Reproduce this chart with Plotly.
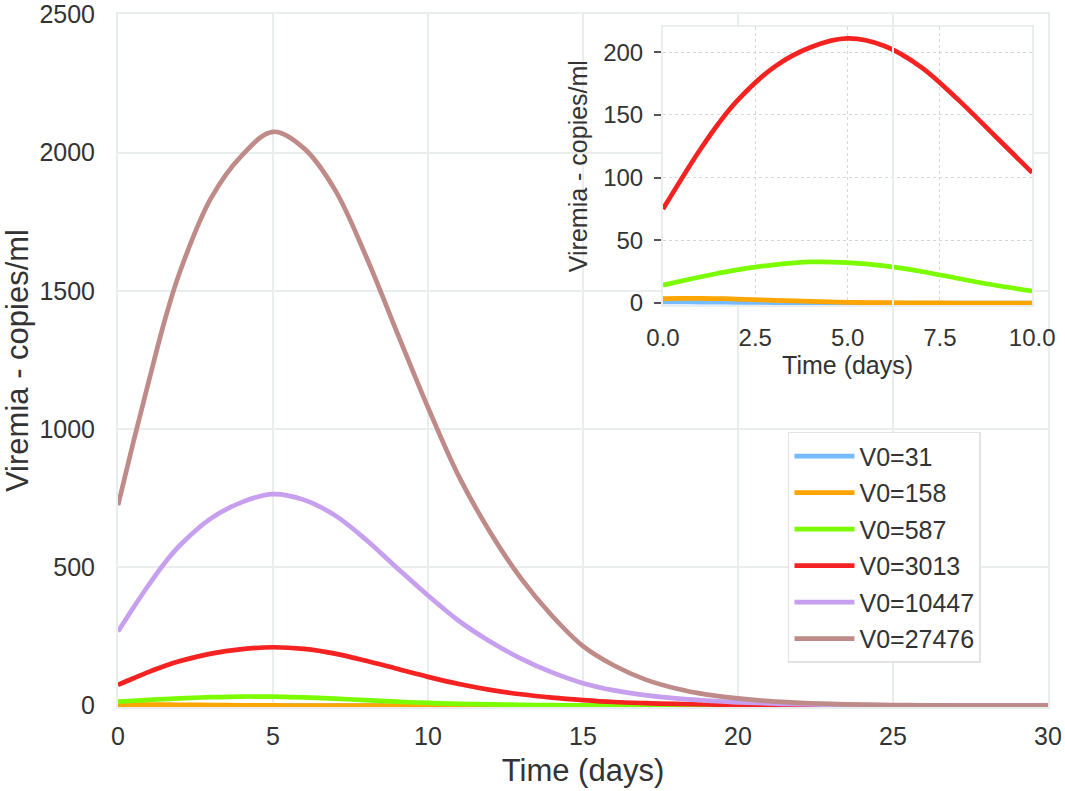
import plotly.graph_objects as go

# ---------------- data ----------------
t = [0, 0.5, 1, 1.5, 2, 3, 4, 5, 6, 7, 8, 9, 10, 11, 12, 13, 14, 15, 16, 17,
     18, 19, 20, 21, 22, 23, 24, 25, 26, 27, 28, 29, 30]

v31 = [0.9, 0.85, 0.8, 0.7, 0.6, 0.35, 0.2, 0.1, 0.05, 0, 0, 0, 0, 0, 0, 0, 0,
       0, 0, 0, 0, 0, 0, 0, 0, 0, 0, 0, 0, 0, 0, 0, 0]
v158 = [3.5, 3.7, 3.8, 3.6, 3.2, 2.2, 1.3, 0.6, 0.3, 0.12, 0.05, 0, 0, 0, 0, 0, 0,
        0, 0, 0, 0, 0, 0, 0, 0, 0, 0, 0, 0, 0, 0, 0, 0]
v587 = [14.3, 17.6, 20.8, 23.8, 26.5, 30.5, 32.8, 32.2, 29.6, 25.2, 19.6, 14.2,
        9.6, 6.5, 4.3, 2.8, 1.8, 1.1, 0.7, 0.4, 0.2, 0.1, 0, 0, 0, 0, 0, 0, 0, 0,
        0, 0, 0]
v3013 = [75, 99, 122, 143, 161, 188, 204, 211, 205, 188, 162, 133, 104, 78, 57,
         41, 29, 20, 13, 9, 6, 4, 2.5, 1.5, 1, 0.5, 0.2, 0, 0, 0, 0, 0, 0]
v10447 = [268, 355, 438, 515, 580, 677, 736, 765, 744, 688, 600, 498, 398, 306,
          232, 170, 120, 81, 55, 38, 26, 18, 12, 8, 5, 3, 2, 1, 0.5, 0.2, 0, 0, 0]
v27476 = [725, 955, 1176, 1390, 1570, 1835, 1990, 2075, 2015, 1865, 1625, 1350,
          1078, 828, 628, 460, 325, 215, 145, 95, 62, 40, 26, 16, 10, 6, 3.5, 2,
          1, 0.5, 0.2, 0, 0]

names = ["V0=31", "V0=158", "V0=587", "V0=3013", "V0=10447", "V0=27476"]
series = [v31, v158, v587, v3013, v10447, v27476]
colors = ["#75bbfd", "#ffa500", "#7cfc00", "#f52222", "#c79fef", "#bf8b89"]

# inset shows the first 10 days
inset_n = t.index(10) + 1

main_xticks = [0, 5, 10, 15, 20, 25, 30]
main_yticks = [0, 500, 1000, 1500, 2000, 2500]
inset_xticks = [0, 2.5, 5, 7.5, 10]
inset_yticks = [0, 50, 100, 150, 200]

FONT = "Liberation Sans, Arial, sans-serif"
TXT = "#333333"
GRID = "#e9eded"

fig = go.Figure()

for nm, ys, c in zip(names, series, colors):
    fig.add_trace(go.Scatter(
        x=t, y=ys, name=nm, mode="lines",
        line=dict(color=c, width=4.7, shape="spline", smoothing=1.0),
        legendgroup=nm, xaxis="x", yaxis="y"))

for nm, ys, c in zip(names, series, colors):
    fig.add_trace(go.Scatter(
        x=t[:inset_n], y=ys[:inset_n], name=nm, mode="lines",
        line=dict(color=c, width=4.7, shape="spline", smoothing=1.0),
        showlegend=False, xaxis="x2", yaxis="y2"))

fig.update_layout(
    width=1065, height=791,
    margin=dict(l=118, r=17, t=14, b=84),
    paper_bgcolor="white", plot_bgcolor="white",
    font=dict(family=FONT, color=TXT, size=25),
    xaxis=dict(
        domain=[0, 1], range=[0, 30], tickvals=main_xticks, automargin=False,
        showgrid=True, gridcolor=GRID, gridwidth=2,
        showline=True, linecolor=GRID, linewidth=2, mirror=True,
        zeroline=False, ticks="", ticklabelstandoff=6, ticklabeloverflow="allow",
        tickfont=dict(size=25, color=TXT),
        title=dict(text="Time (days)", font=dict(size=31, color=TXT), standoff=10)),
    yaxis=dict(
        domain=[0, 1], range=[-5, 2501], tickvals=main_yticks, automargin=False,
        showgrid=True, gridcolor=GRID, gridwidth=2,
        showline=True, linecolor=GRID, linewidth=2, mirror=True,
        zeroline=False, ticks="", ticklabelstandoff=16, ticklabeloverflow="allow",
        tickfont=dict(size=25, color=TXT),
        title=dict(text="Viremia - copies/ml", font=dict(size=31, color=TXT), standoff=12)),
    xaxis2=dict(
        domain=[0.586, 0.983], anchor="y2", range=[0, 10], tickvals=inset_xticks,
        tickformat=".1f", automargin=False,
        showgrid=True, gridcolor="#d6d6d6", gridwidth=1, griddash="dot",
        showline=True, linecolor=GRID, linewidth=2, mirror=True,
        zeroline=False, ticks="", ticklabelstandoff=10,
        tickfont=dict(size=24, color=TXT),
        title=dict(text="Time (days)", font=dict(size=25, color=TXT), standoff=6)),
    yaxis2=dict(
        domain=[0.580, 0.981], anchor="x2", range=[-1.6, 220], tickvals=inset_yticks,
        automargin=False,
        showgrid=True, gridcolor="#d6d6d6", gridwidth=1, griddash="dot",
        showline=True, linecolor=GRID, linewidth=2, mirror=True,
        zeroline=False, ticks="outside", ticklen=7, tickwidth=1.5, tickcolor="#555555",
        ticklabelstandoff=6,
        tickfont=dict(size=24, color=TXT),
        title=dict(text="Viremia - copies/ml", font=dict(size=25, color=TXT), standoff=8)),
    legend=dict(
        x=0.7204, y=0.397, xanchor="left", yanchor="top",
        bgcolor="white", bordercolor="#e3e3e3", borderwidth=1.5,
        font=dict(size=25, color=TXT), itemwidth=60, tracegroupgap=1),
    showlegend=True,
)

# the main-axes grid line at x=25 shows through the inset in the reference
fig.add_shape(type="line", xref="x", yref="paper", x0=25, x1=25,
              y0=0.580, y1=0.981, line=dict(color=GRID, width=2), layer="above")

# remove the browser's default 8px body margin so the figure fills the window
fig.write_html("out.html",
               config={"displayModeBar": False},
               post_script="document.body.style.margin='0';"
                           "document.body.style.overflow='hidden';")
